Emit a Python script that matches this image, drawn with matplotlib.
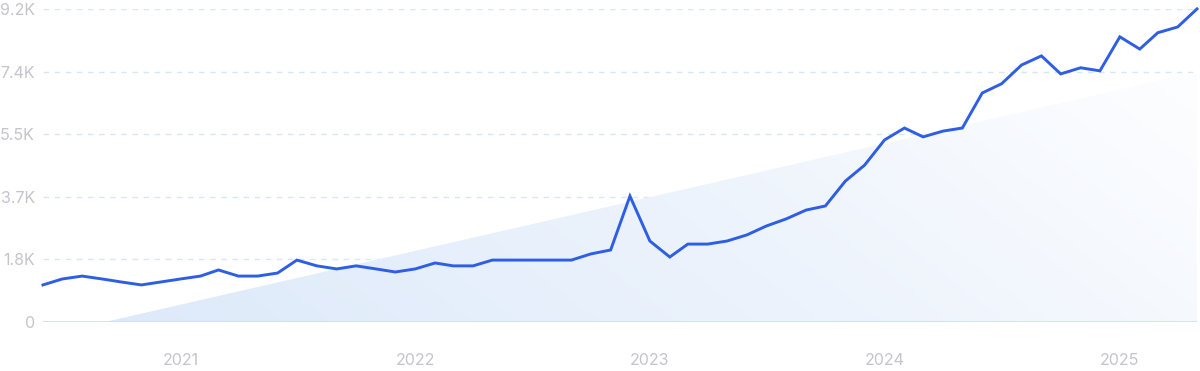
import numpy as np
import pandas as pd
import matplotlib
matplotlib.use("Agg")
import matplotlib.pyplot as plt
import matplotlib.dates as mdates
from matplotlib.patches import Polygon
from matplotlib.colors import LinearSegmentedColormap

# monthly search volume, Jun 2020 - May 2025
months = pd.date_range("2020-06-01", periods=60, freq="MS")
volume = [1090, 1265, 1350, 1265, 1176, 1090, 1176, 1265, 1350, 1530,
          1350, 1350, 1440, 1820, 1650, 1560, 1650, 1560, 1470, 1560,
          1735, 1650, 1650, 1820, 1820, 1820, 1820, 1820, 2000, 2117,
          3700, 2380, 1910, 2290, 2290, 2380, 2560, 2820, 3030, 3290,
          3410, 4140, 4610, 5350, 5700, 5440, 5610, 5700, 6730, 7000,
          7550, 7820, 7290, 7470, 7380, 8380, 8020, 8500, 8670, 9200]

# trend wedge (start, end)
trend_dates = pd.to_datetime(["2020-09-05", "2025-05-01"])
trend_vals = [0, 7350]

yticks = [0, 1840, 3680, 5520, 7360, 9200]
ytick_labels = ["0", "1.8K", "3.7K", "5.5K", "7.4K", "9.2K"]
xtick_years = [2021, 2022, 2023, 2024, 2025]

plt.rcParams['font.family'] = ['Inter', 'DejaVu Sans']

fig = plt.figure(figsize=(12, 3.71), dpi=100)
ax = fig.add_axes([0.0358, 0.132, 0.9617, 0.844])

x0, x1 = mdates.date2num(months[0]), mdates.date2num(months[-1])
ax.set_xlim(x0, x1)
ax.set_ylim(0, 9200)

# gradient-filled trend wedge
tx = mdates.date2num(trend_dates)
poly = Polygon([(tx[0], 0), (tx[1], trend_vals[1]), (tx[1], 0)],
               closed=True, facecolor="none", edgecolor="none")
ax.add_patch(poly)
cmap = LinearSegmentedColormap.from_list("g", ["#dce9fa", "#ebf2fc", "#fcfdff"])
gx, gy = np.meshgrid(np.linspace(0, 1, 400), np.linspace(0, 1, 200))
grad = 0.85 * gx + 0.3 * (1 - gy)
img = ax.imshow(grad, cmap=cmap, extent=[x0, x1, 0, 9200], origin="upper",
                aspect="auto", zorder=1, vmin=0, vmax=1.05)
img.set_clip_path(poly)

# grid
for v in yticks[1:]:
    ax.axhline(v, color="#d9e6f6", lw=1, ls=(0, (4, 4)), zorder=0.5)
ax.axhline(0, color="#c9e0f7", lw=1.2, zorder=2)

ax.plot(months, volume, color="#2d5ee4", lw=2.1, zorder=3, clip_on=False,
        solid_joinstyle="miter")

for s in ax.spines.values():
    s.set_visible(False)

ax.set_yticks(yticks)
ax.set_yticklabels(ytick_labels)
ax.set_xticks([mdates.date2num(pd.Timestamp(f"{y}-01-01")) for y in xtick_years])
ax.set_xticklabels([str(y) for y in xtick_years])
ax.tick_params(axis="both", length=0, labelsize=11.5, colors="#c4c4cc")
ax.tick_params(axis="y", pad=6)
ax.tick_params(axis="x", pad=22)

fig.savefig("out.png", dpi=100, facecolor="white")
